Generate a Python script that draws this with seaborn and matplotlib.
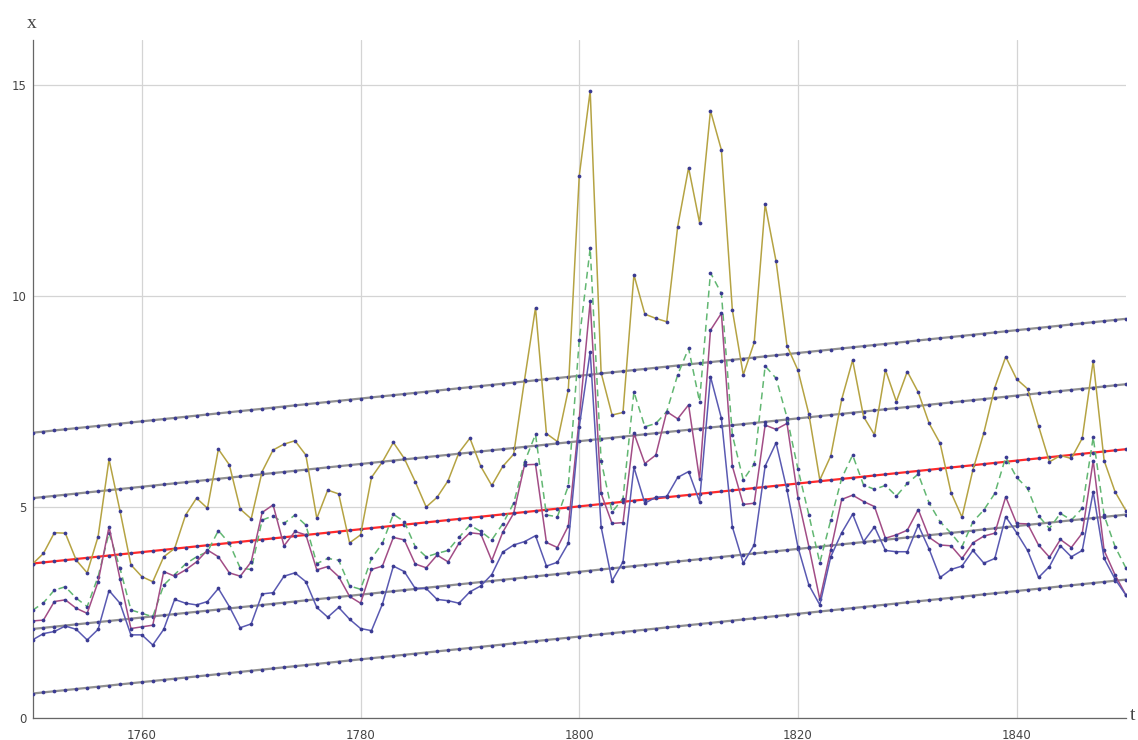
import numpy as np
import pandas as pd
import matplotlib
matplotlib.use("Agg")
import matplotlib.pyplot as plt
import seaborn as sns

# yearly observations, 1750-1850
years = list(range(1750, 1851))

upper_series = [
    3.65, 3.90, 4.39, 4.38, 3.74, 3.44, 4.30, 6.13, 4.91, 3.63,
    3.35, 3.23, 3.82, 4.02, 4.81, 5.21, 4.97, 6.37, 6.00, 4.95,
    4.72, 5.84, 6.35, 6.49, 6.57, 6.23, 4.73, 5.40, 5.31, 4.15,
    4.34, 5.70, 6.07, 6.53, 6.15, 5.60, 5.00, 5.23, 5.62, 6.29,
    6.63, 5.96, 5.51, 5.96, 6.25, 8.02, 9.72, 6.74, 6.55, 7.78,
    12.85, 14.86, 8.18, 7.18, 7.24, 10.50, 9.57, 9.47, 9.39, 11.64,
    13.04, 11.74, 14.39, 13.46, 9.67, 8.13, 8.90, 12.17, 10.82, 8.82,
    8.24, 7.20, 5.64, 6.21, 7.55, 8.48, 7.14, 6.71, 8.25, 7.50,
    8.21, 7.72, 6.98, 6.51, 5.34, 4.76, 5.88, 6.76, 7.83, 8.56,
    8.03, 7.80, 6.92, 6.07, 6.22, 6.15, 6.63, 8.46, 6.10, 5.36,
    4.91,
]

mean_series = [
    2.55, 2.73, 3.03, 3.11, 2.84, 2.64, 3.35, 4.39, 3.55, 2.56,
    2.48, 2.40, 3.15, 3.40, 3.65, 3.82, 3.94, 4.44, 4.14, 3.55,
    3.52, 4.69, 4.79, 4.61, 4.81, 4.57, 3.66, 3.78, 3.74, 3.13,
    3.05, 3.78, 4.14, 4.83, 4.65, 4.06, 3.82, 3.90, 3.97, 4.28,
    4.57, 4.42, 4.22, 4.60, 5.09, 6.07, 6.72, 4.81, 4.77, 5.50,
    8.96, 11.13, 6.10, 4.88, 5.20, 7.73, 6.90, 6.98, 7.26, 8.13,
    8.76, 7.50, 10.55, 10.06, 6.71, 5.64, 6.02, 8.34, 8.05, 7.12,
    5.90, 4.81, 3.68, 4.69, 5.68, 6.23, 5.52, 5.42, 5.51, 5.26,
    5.56, 5.78, 5.09, 4.65, 4.38, 4.06, 4.65, 4.93, 5.32, 6.18,
    5.70, 5.44, 4.79, 4.49, 4.85, 4.69, 4.97, 6.65, 4.80, 4.06,
    3.55,
]

median_series = [
    2.30, 2.32, 2.76, 2.80, 2.60, 2.48, 3.23, 4.53, 3.30, 2.12,
    2.16, 2.20, 3.47, 3.36, 3.51, 3.70, 3.98, 3.82, 3.44, 3.36,
    3.70, 4.87, 5.05, 4.08, 4.42, 4.34, 3.51, 3.59, 3.35, 2.88,
    2.72, 3.52, 3.60, 4.28, 4.22, 3.65, 3.56, 3.86, 3.70, 4.14,
    4.39, 4.36, 3.73, 4.40, 4.85, 6.00, 6.01, 4.16, 4.04, 4.55,
    7.10, 9.87, 5.32, 4.61, 4.63, 6.75, 6.03, 6.23, 7.26, 7.09,
    7.42, 5.66, 9.19, 9.59, 5.97, 5.06, 5.09, 6.94, 6.84, 6.98,
    5.22, 4.06, 2.81, 3.98, 5.18, 5.28, 5.13, 5.01, 4.26, 4.34,
    4.45, 4.94, 4.28, 4.10, 4.08, 3.78, 4.15, 4.31, 4.38, 5.24,
    4.61, 4.60, 4.10, 3.81, 4.23, 4.04, 4.38, 6.10, 3.97, 3.39,
    2.91,
]

lower_series = [
    1.85, 2.00, 2.05, 2.18, 2.10, 1.85, 2.10, 3.02, 2.72, 1.97,
    1.97, 1.73, 2.10, 2.81, 2.72, 2.68, 2.76, 3.07, 2.64, 2.14,
    2.23, 2.94, 2.97, 3.36, 3.44, 3.23, 2.62, 2.39, 2.62, 2.34,
    2.12, 2.07, 2.70, 3.60, 3.47, 3.07, 3.07, 2.81, 2.78, 2.72,
    2.99, 3.13, 3.40, 3.93, 4.10, 4.18, 4.32, 3.60, 3.69, 4.14,
    6.90, 8.68, 4.53, 3.25, 3.70, 5.94, 5.09, 5.23, 5.25, 5.70,
    5.84, 5.13, 8.09, 7.10, 4.53, 3.67, 4.10, 5.97, 6.52, 5.40,
    4.05, 3.15, 2.68, 3.82, 4.39, 4.83, 4.18, 4.53, 3.97, 3.94,
    3.94, 4.57, 4.00, 3.33, 3.52, 3.60, 3.97, 3.67, 3.78, 4.77,
    4.39, 3.97, 3.33, 3.59, 4.08, 3.82, 3.97, 5.36, 3.78, 3.29,
    2.91,
]

# linear trend and its bands: value at 1750 and at 1850
trend_start = [6.76, 5.21, 3.66, 2.11, 0.58]
trend_end = [9.46, 7.91, 6.37, 4.82, 3.28]
trend_names = ["band_hi2", "band_hi1", "trend", "band_lo1", "band_lo2"]

x_ticks = [1760, 1780, 1800, 1820, 1840]
y_ticks = [0, 5, 10, 15]

sns.set_theme(style="white")
plt.rcParams["font.family"] = ["DejaVu Sans"]

W, H = 1138, 740
fig = plt.figure(figsize=(W / 100, H / 100), dpi=100)
x0, x1 = 32.5, 1126.0
y_bottom, y_top = 718.0, 40.0
ax = fig.add_axes([x0 / W, (H - y_bottom) / H, (x1 - x0) / W, (y_bottom - y_top) / H])

yrs = np.array(years, dtype=float)
trend_rows = []
for name, a, b in zip(trend_names, trend_start, trend_end):
    vals = a + (b - a) * (yrs - 1750) / 100.0
    trend_rows.append(pd.DataFrame({"t": yrs, "x": vals, "line": name}))
trend_df = pd.concat(trend_rows, ignore_index=True)

dot_color = "#3a3a92"
dot_kw = dict(marker="o", markersize=2.7, markerfacecolor=dot_color,
              markeredgecolor=dot_color, markeredgewidth=0)

# trend bands in grey, central trend in red
for name in trend_names:
    sub = trend_df[trend_df["line"] == name]
    col = "#ff2a2a" if name == "trend" else "#909090"
    sns.lineplot(data=sub, x="t", y="x", ax=ax, color=col, linewidth=1.6,
                 estimator=None, sort=False, legend=False, zorder=3, **dot_kw)

series = [
    (upper_series, "#b5a343", "-"),
    (mean_series, "#62b772", (0, (4.5, 3))),
    (median_series, "#a24d86", "-"),
    (lower_series, "#5a5ab2", "-"),
]
for vals, col, ls in series:
    df = pd.DataFrame({"t": years, "x": vals})
    sns.lineplot(data=df, x="t", y="x", ax=ax, color=col, linewidth=1.1,
                 linestyle=ls, estimator=None, sort=False, legend=False,
                 zorder=4, **dot_kw)

ax.set_xlim(1750, 1850)
ax.set_ylim(0, (y_bottom - y_top) / 42.2)
ax.set_xticks(x_ticks)
ax.set_xticks([v for v in range(1755, 1851, 5) if v not in x_ticks], minor=True)
ax.set_yticks(y_ticks)
ax.set_yticks([v for v in range(1, 17) if v % 5], minor=True)
ax.set_xticklabels([str(v) for v in x_ticks])
ax.set_yticklabels([str(v) for v in y_ticks])
ax.grid(True, which="major", color="#d4d4d4", linewidth=0.9)
ax.set_axisbelow(True)
ax.tick_params(which="major", direction="in", length=5, width=0.8, color="#666666",
               labelsize=8.5, labelcolor="#444444", pad=8)
ax.tick_params(which="minor", direction="in", length=3, width=0.7, color="#666666")
ax.tick_params(axis="y", which="major", pad=4)
for side in ("top", "right"):
    ax.spines[side].set_visible(False)
for side in ("left", "bottom"):
    ax.spines[side].set_color("#666666")
    ax.spines[side].set_linewidth(0.9)
ax.set_xlabel("")
ax.set_ylabel("")

fig.text(32 / W, 1 - 23 / H, "x", family=["Liberation Serif", "DejaVu Serif"],
         fontsize=14, color="#444444", ha="center", va="center")
fig.text(1133 / W, 1 - 716 / H, "t", family=["Liberation Serif", "DejaVu Serif"],
         fontsize=14, color="#444444", ha="center", va="center")

fig.savefig("out.png", dpi=100)
